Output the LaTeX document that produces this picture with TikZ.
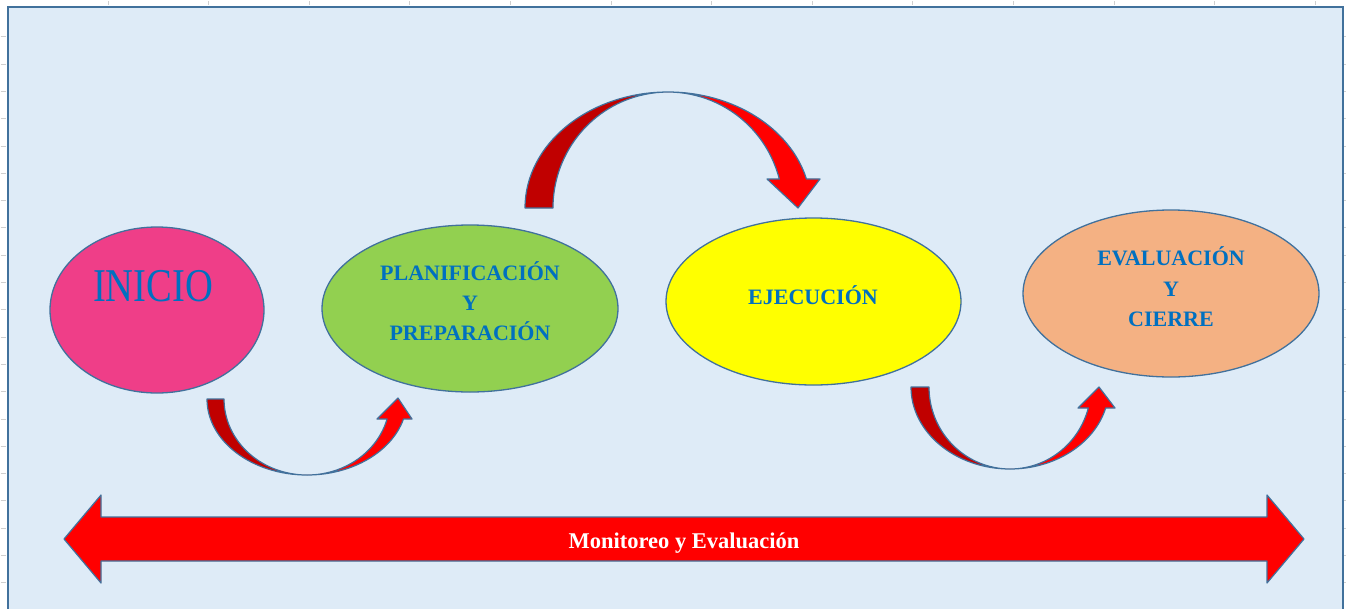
\documentclass[tikz,border=0pt]{standalone}
\usepackage{fontspec}
\usepackage{graphicx}
\setmainfont{Liberation Serif}
\usetikzlibrary{shapes.geometric}
\definecolor{bgblue}{HTML}{DEEBF7}
\definecolor{frameblue}{HTML}{41719C}
\definecolor{txtblue}{HTML}{0070C0}
\definecolor{pinkfill}{HTML}{EF3E88}
\definecolor{greenfill}{HTML}{92D050}
\definecolor{yellowfill}{HTML}{FFFF00}
\definecolor{peachfill}{HTML}{F4B183}
\definecolor{darkred}{HTML}{C00000}
\definecolor{brightred}{HTML}{FF0000}
\definecolor{tickgray}{HTML}{CFCFCF}
\tikzset{
  phase/.style={ellipse, draw=frameblue, line width=1.3pt, inner sep=0pt},
  phasetext/.style={anchor=base, text=txtblue, font=\fontsize{22}{26}\selectfont\bfseries, inner sep=0pt},
  arrowline/.style={draw=frameblue, line width=1.2pt, line join=round},
  tick/.style={draw=tickgray, line width=0.8pt},
}
\begin{document}
\begin{tikzpicture}[x=1pt,y=1pt]
\useasboundingbox (0,0) rectangle (1346,-608);
% spreadsheet ticks
\foreach \k in {0,...,20} {
  \draw[tick] (0.5,{-36.7-27.3*\k}) -- (6,{-36.7-27.3*\k});
  \draw[tick] (1344,{-36.7-27.3*\k}) -- (1346,{-36.7-27.3*\k});
}
\foreach \k in {0,...,12} {
  \draw[tick] ({108+100.6*\k},-1) -- ({108+100.6*\k},-5);
}
% background panel
\fill[bgblue] (7.5,-6.5) rectangle (1343,-612);
\draw[frameblue, line width=2pt] (7.5,-612) -- (7.5,-6.5) -- (1343,-6.5) -- (1343,-612);

% phases
\node[phase, fill=pinkfill, minimum width=214pt, minimum height=166pt] (inicio) at (157,-310) {};
\node[phase, fill=greenfill, minimum width=296pt, minimum height=167pt] (plan) at (470,-308.5) {};
\node[phase, fill=yellowfill, minimum width=295pt, minimum height=167pt] (ejec) at (813.5,-301.5) {};
\node[phase, fill=peachfill, minimum width=296pt, minimum height=167pt] (eval) at (1171,-293.5) {};

\node[anchor=base, text=txtblue, inner sep=0pt, font=\fontsize{47}{50}\selectfont] (tinicio) at (153,-301) {\scalebox{0.82}[1]{INICIO}};
\node[phasetext] (tplan1) at (470,-280.3) {PLANIFICACIÓN};
\node[phasetext] (tplan2) at (470,-310.3) {Y};
\node[phasetext] (tplan3) at (470,-340.3) {PREPARACIÓN};
\node[phasetext] (tejec) at (813,-304.3) {EJECUCIÓN};
\node[phasetext] (teval1) at (1171,-265.3) {EVALUACIÓN};
\node[phasetext] (teval2) at (1171,-296.3) {Y};
\node[phasetext] (teval3) at (1171,-326.3) {CIERRE};

% curved arrow 1: inicio -> plan
\fill[darkred] (207,-399) arc[start angle=180, end angle=270, x radius=100pt, y radius=76pt]
  arc[start angle=270, end angle=180, x radius=83pt, y radius=76pt] -- cycle;
\fill[brightred] (307,-475) arc[start angle=270, end angle=344.75, x radius=100pt, y radius=76pt]
  -- (412,-419) -- (398,-398) -- (377,-419) -- (387.1,-419)
  arc[start angle=344.75, end angle=270, x radius=83pt, y radius=76pt] -- cycle;
\draw[arrowline] (207,-399) arc[start angle=180, end angle=344.75, x radius=100pt, y radius=76pt]
  -- (412,-419) -- (398,-398) -- (377,-419) -- (387.1,-419)
  arc[start angle=344.75, end angle=180, x radius=83pt, y radius=76pt] -- cycle;

% curved arrow 2: plan -> ejec
\fill[darkred] (525,-208) arc[start angle=180, end angle=90, x radius=143pt, y radius=116pt]
  arc[start angle=90, end angle=180, x radius=115pt, y radius=116pt] -- cycle;
\fill[brightred] (668,-92) arc[start angle=90, end angle=14.5, x radius=143pt, y radius=116pt]
  -- (820,-179) -- (798,-208) -- (767,-179) -- (779.3,-179)
  arc[start angle=14.5, end angle=90, x radius=115pt, y radius=116pt] -- cycle;
\draw[arrowline] (525,-208) arc[start angle=180, end angle=14.5, x radius=143pt, y radius=116pt]
  -- (820,-179) -- (798,-208) -- (767,-179) -- (779.3,-179)
  arc[start angle=14.5, end angle=180, x radius=115pt, y radius=116pt] -- cycle;

% curved arrow 3: ejec -> eval
\fill[darkred] (911,-387) arc[start angle=180, end angle=270, x radius=99pt, y radius=82pt]
  arc[start angle=270, end angle=180, x radius=81pt, y radius=82pt] -- cycle;
\fill[brightred] (1010,-469) arc[start angle=270, end angle=345.16, x radius=99pt, y radius=82pt]
  -- (1115,-408) -- (1099,-387) -- (1078,-408) -- (1088.3,-408)
  arc[start angle=345.16, end angle=270, x radius=81pt, y radius=82pt] -- cycle;
\draw[arrowline] (911,-387) arc[start angle=180, end angle=345.16, x radius=99pt, y radius=82pt]
  -- (1115,-408) -- (1099,-387) -- (1078,-408) -- (1088.3,-408)
  arc[start angle=345.16, end angle=180, x radius=81pt, y radius=82pt] -- cycle;

% monitoring double arrow
\filldraw[fill=brightred, arrowline] (64,-539) -- (101,-495) -- (101,-517) -- (1267,-517)
  -- (1267,-495) -- (1304,-539) -- (1267,-583) -- (1267,-561) -- (101,-561) -- (101,-583) -- cycle;
\node[anchor=base, text=white, inner sep=0pt, font=\fontsize{22.5}{26}\selectfont\bfseries] (monitor) at (684,-548) {Monitoreo y Evaluación};
\end{tikzpicture}
\end{document}
